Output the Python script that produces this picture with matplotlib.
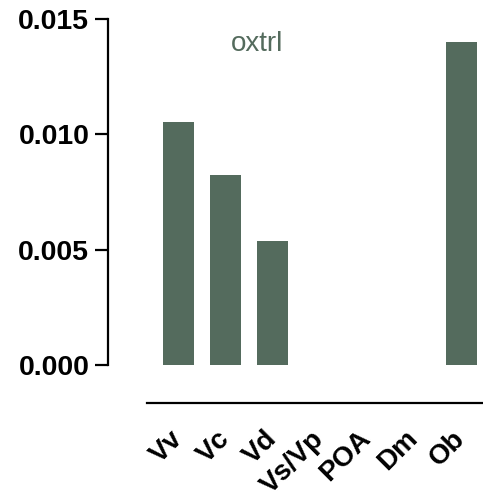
import matplotlib
matplotlib.use("Agg")
import matplotlib.pyplot as plt

regions = ["Vv", "Vc", "Vd", "Vs/Vp", "POA", "Dm", "Ob"]
expression = [0.01053, 0.00824, 0.00538, 0.0, 0.0, 0.0, 0.01400]
yticks = [0.000, 0.005, 0.010, 0.015]
gene = "oxtrl"

bar_color = "#546b5d"

plt.rcParams["font.family"] = ["Liberation Sans", "DejaVu Sans"]

fig = plt.figure(figsize=(4.83, 5.01), dpi=100)
ax = fig.add_axes([0.3043, 0.2715, 0.6957, 0.6906])

x = list(range(len(regions)))
ax.bar(x, expression, width=0.66, color=bar_color)

ax.set_xlim(-0.67, 6.46)
ax.set_ylim(0, 0.015)

# spines pushed away from the data, offsets in points (px * 0.72)
ax.spines["top"].set_visible(False)
ax.spines["right"].set_visible(False)
ax.spines["left"].set_position(("outward", 28))
ax.spines["bottom"].set_position(("outward", 27.4))
ax.spines["left"].set_linewidth(1.6)
ax.spines["bottom"].set_linewidth(1.6)

ax.set_yticks(yticks)
ax.set_yticklabels([f"{v:.3f}" for v in yticks], fontsize=20.5, fontweight="bold")
ax.tick_params(axis="y", length=9.5, width=1.6, pad=4)

ax.set_xticks(x)
ax.set_xticklabels(regions, fontsize=20, fontweight="bold", rotation=45,
                   ha="right", va="center", rotation_mode="anchor")
ax.tick_params(axis="x", length=0, pad=23)

ax.text(0.327, 0.928, gene, transform=ax.transAxes, ha="center", va="center",
        fontsize=20, color=bar_color)

fig.savefig("out.png", dpi=100)
